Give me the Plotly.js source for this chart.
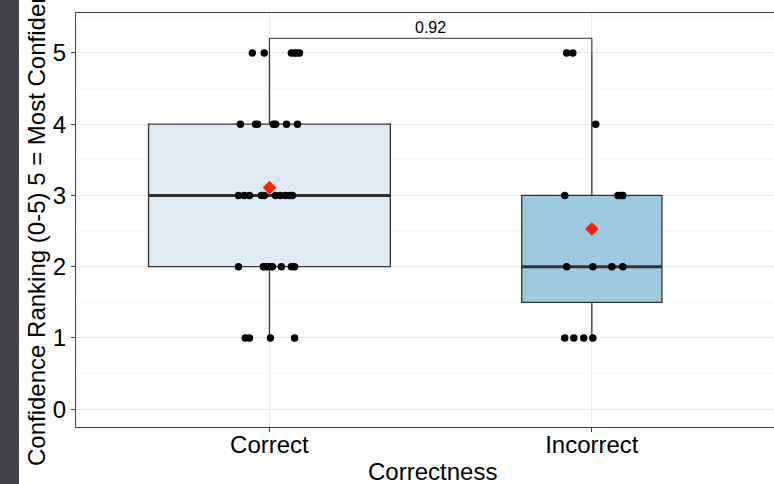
<!DOCTYPE html>
<html>
<head>
<meta charset="utf-8">
<script src="https://cdn.plot.ly/plotly-3.0.1.min.js"></script>
<style>html,body{margin:0;padding:0;background:#fff;}#chart{width:774px;height:484px;}</style>
</head>
<body>
<div id="chart"></div>
<script>
// ---- data ----
const categories = ['Correct', 'Incorrect'];
const catPos = [1, 2];
const q1 = [2, 1.5];
const medians = [3, 2];
const q3 = [4, 3];
const lowerFence = [1, 1];
const upperFence = [5, 5];
const means = [3.11, 2.53];
const pValueLabel = '0.92';
const bracketHeight = 5.206;

// individual responses (value) and their horizontal jitter offsets
const correctValues = [5,5,5,5,5,5, 4,4,4,4,4,4,4, 3,3,3,3,3,3,3,3,3,3, 2,2,2,2,2,2,2,2, 1,1,1,1];
const correctJitter = [-0.053,-0.016,0.068,0.078,0.084,0.093,
  -0.090,-0.043,-0.037,0.012,0.019,0.053,0.087,
  -0.096,-0.078,-0.062,-0.025,-0.016,0.019,0.034,0.050,0.062,0.071,
  -0.096,-0.019,-0.009,0.000,0.009,0.037,0.068,0.078,
  -0.075,-0.062,0.003,0.078];
const incorrectValues = [5,5, 4, 3,3,3,3, 2,2,2,2, 1,1,1,1];
const incorrectJitter = [-0.078,-0.059, 0.012, -0.084,0.081,0.090,0.096,
  -0.078,0.003,0.062,0.096, -0.084,-0.056,-0.025,0.003];

// ---- styles ----
const boxWidths = [0.75, 0.435];
const boxFills = ['#DEEBF7', '#9ECAE1'];
const lineCol = '#333333';
const FONT = 'Liberation Sans, Arial, Helvetica, sans-serif';

const traces = [];
for (let i = 0; i < categories.length; i++) {
  traces.push({
    type: 'box', x: [catPos[i]], q1: [q1[i]], median: [medians[i]], q3: [q3[i]],
    lowerfence: [lowerFence[i]], upperfence: [upperFence[i]],
    width: boxWidths[i], fillcolor: boxFills[i],
    line: {color: lineCol, width: 1.3}, whiskerwidth: 0,
    boxpoints: false, hoverinfo: 'skip', showlegend: false
  });
}
// thick median lines
const medX = [], medY = [];
for (let i = 0; i < categories.length; i++) {
  medX.push(catPos[i] - boxWidths[i] / 2, catPos[i] + boxWidths[i] / 2, null);
  medY.push(medians[i], medians[i], null);
}
traces.push({type: 'scatter', mode: 'lines', x: medX, y: medY,
  line: {color: lineCol, width: 3}, hoverinfo: 'skip', showlegend: false});

// significance bracket
traces.push({type: 'scatter', mode: 'lines',
  x: [catPos[0], catPos[0], catPos[1], catPos[1]],
  y: [upperFence[0], bracketHeight, bracketHeight, upperFence[1]],
  line: {color: lineCol, width: 1.1}, hoverinfo: 'skip', showlegend: false});

// jittered points
traces.push({type: 'scatter', mode: 'markers',
  x: correctValues.map((v, k) => catPos[0] + correctJitter[k]), y: correctValues,
  marker: {color: '#000', size: 7.5}, hoverinfo: 'skip', showlegend: false});
traces.push({type: 'scatter', mode: 'markers',
  x: incorrectValues.map((v, k) => catPos[1] + incorrectJitter[k]), y: incorrectValues,
  marker: {color: '#000', size: 7.5}, hoverinfo: 'skip', showlegend: false});

// means
traces.push({type: 'scatter', mode: 'markers', x: catPos, y: means,
  marker: {color: '#FF2200', size: 10.5, symbol: 'diamond'}, hoverinfo: 'skip', showlegend: false});

const W = 774, H = 484, ML = 76, MT = 13, MB = 57;
const PW = W - ML, PH = H - MT - MB;

const layout = {
  width: W, height: H,
  margin: {l: ML, r: 0, t: MT, b: MB, pad: 0},
  paper_bgcolor: '#fff', plot_bgcolor: '#fff',
  font: {family: FONT, color: '#000'},
  showlegend: false,
  xaxis: {
    range: [0.4, 2.565], tickvals: catPos, ticktext: categories,
    showgrid: true, gridcolor: '#EBEBEB', gridwidth: 1.1,
    showline: true, mirror: true, linecolor: '#444', linewidth: 1.1,
    ticks: 'outside', ticklen: 4, tickcolor: '#444', tickwidth: 1.1,
    ticklabelstandoff: -8,
    tickfont: {size: 24, color: '#000', family: FONT}, zeroline: false, fixedrange: true
  },
  yaxis: {
    range: [-0.25, 5.56], tick0: 0, dtick: 1,
    showgrid: true, gridcolor: '#EBEBEB', gridwidth: 1.1,
    minor: {dtick: 0.5, showgrid: true, gridcolor: '#F4F4F4', gridwidth: 0.6},
    showline: true, linecolor: '#444', linewidth: 1.1,
    ticks: 'outside', ticklen: 4, tickcolor: '#444', tickwidth: 1.1,
    tickfont: {size: 24, color: '#000', family: FONT}, zeroline: false, fixedrange: true
  },
  shapes: [{
    type: 'rect', xref: 'paper', yref: 'paper', layer: 'above',
    x0: -ML / PW, x1: (19 - ML) / PW, y0: -MB / PH, y1: 1 + MT / PH,
    fillcolor: '#45434f', line: {width: 0}
  }],
  annotations: [
    {x: (catPos[0] + catPos[1]) / 2, y: bracketHeight, xref: 'x', yref: 'y',
      text: pValueLabel, showarrow: false, yanchor: 'bottom', yshift: 0,
      font: {size: 16, color: '#000', family: FONT}},
    {xref: 'paper', yref: 'paper', x: (432 - ML) / PW, y: (427 - 471) / PH,
      xanchor: 'center', yanchor: 'middle', text: 'Correctness', showarrow: false,
      font: {size: 24, color: '#000', family: FONT}},
    {xref: 'paper', yref: 'paper', x: (36 - ML) / PW, y: (427 - 225) / PH,
      xanchor: 'center', yanchor: 'middle', textangle: -90,
      text: 'Confidence Ranking (0-5) 5 = Most Confident', showarrow: false,
      font: {size: 24, color: '#000', family: FONT}}
  ]
};

Plotly.newPlot('chart', traces, layout, {staticPlot: true, displayModeBar: false});
</script>
</body>
</html>
